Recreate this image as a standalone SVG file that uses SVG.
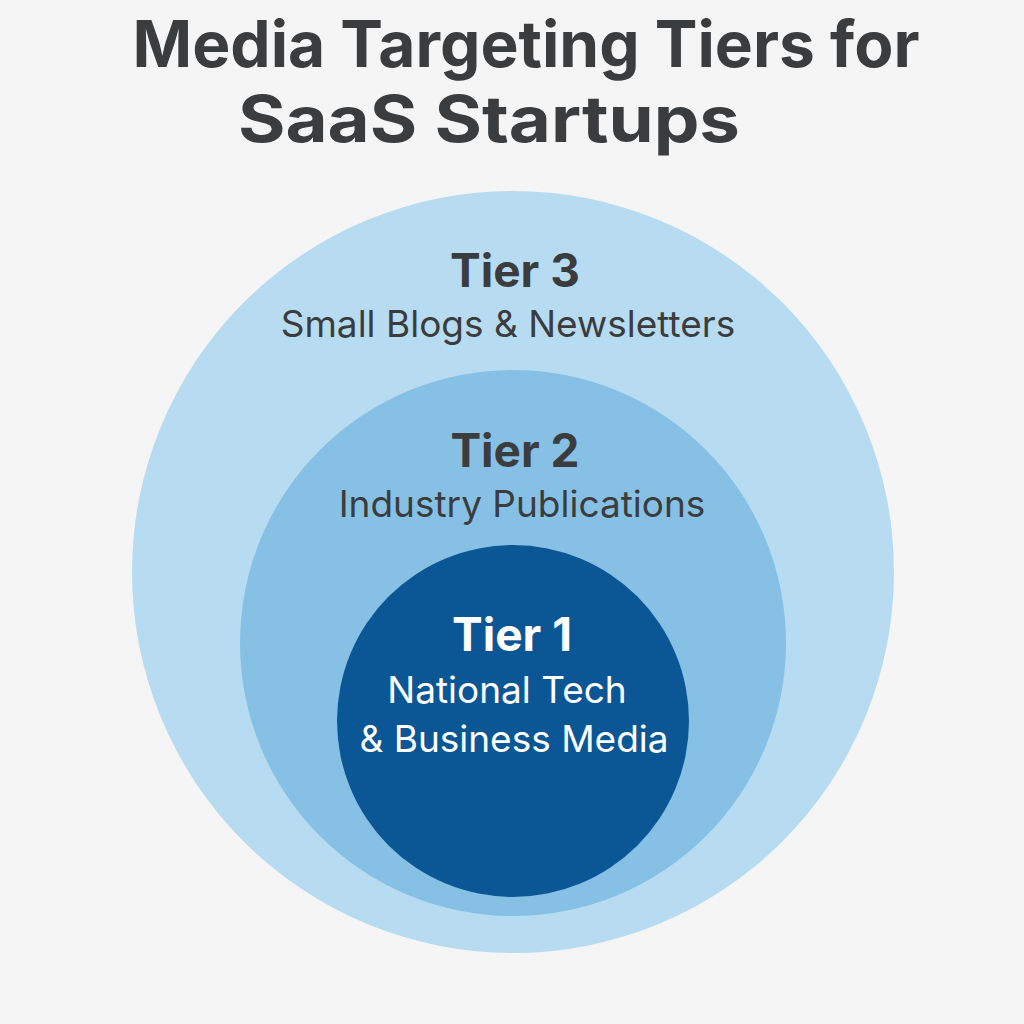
<svg xmlns="http://www.w3.org/2000/svg" width="1024" height="1024" viewBox="0 0 1024 1024">
<style>
.t{font-family:Inter,"Noto Sans","Liberation Sans",sans-serif;text-anchor:middle;fill:#3b3c3e}
.title{font-size:64px;font-weight:700}
.h{font-size:46px;font-weight:700}
.s{font-size:37px;font-weight:400}
.w{fill:#ffffff}
</style>
<rect width="1024" height="1024" fill="#f5f5f5"/>
<g id="title">
<text class="t title" x="526" y="67">Media Targeting Tiers for</text>
<text class="t title" x="489" y="142" textLength="502" lengthAdjust="spacingAndGlyphs">SaaS Startups</text>
</g>
<g id="tier3">
<circle cx="513" cy="572" r="381" fill="#b7dcf1"/>
<text class="t h" x="515" y="287">Tier 3</text>
<text class="t s" x="508" y="337">Small Blogs &amp; Newsletters</text>
</g>
<g id="tier2">
<circle cx="513" cy="643" r="273" fill="#86c1e5"/>
<text class="t h" x="515" y="467">Tier 2</text>
<text class="t s" x="522" y="517">Industry Publications</text>
</g>
<g id="tier1">
<circle cx="513" cy="721" r="176" fill="#0b5796"/>
<text class="t h w" x="512" y="651">Tier 1</text>
<text class="t s w" x="507" y="703">National Tech</text>
<text class="t s w" x="514" y="752">&amp; Business Media</text>
</g>
<g id="connectors"/>
</svg>
